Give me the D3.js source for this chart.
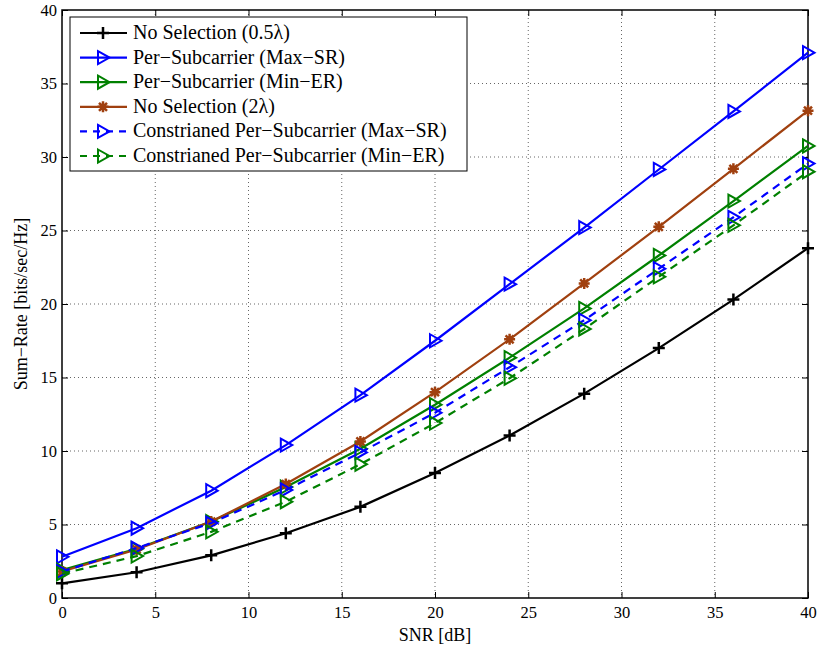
<!DOCTYPE html>
<html><head><meta charset="utf-8">
<script src="https://cdn.jsdelivr.net/npm/d3@7"></script>
<style>body{margin:0;background:#fff}svg{display:block}text{font-family:"Liberation Serif","Times New Roman",serif !important}</style>
</head><body>
<svg id="c" width="821" height="649"></svg>
<script>
const snr = [0,4,8,12,16,20,24,28,32,36,40];
const noSel05 = [1.0,1.75,2.9,4.4,6.2,8.5,11.05,13.9,17.0,20.3,23.8];
const perSubMaxSR = [2.8,4.75,7.3,10.4,13.8,17.5,21.35,25.2,29.15,33.1,37.1];
const perSubMinER = [1.9,3.35,5.2,7.55,10.15,13.15,16.35,19.7,23.3,27.0,30.75];
const noSel2 = [1.8,3.3,5.2,7.75,10.65,14.0,17.6,21.4,25.25,29.2,33.15];
const conMaxSR = [1.8,3.4,5.1,7.35,9.9,12.6,15.7,18.9,22.4,25.9,29.55];
const conMinER = [1.65,2.85,4.5,6.55,9.1,11.9,14.95,18.3,21.85,25.35,29.0];
const xTicks = [0,5,10,15,20,25,30,35,40];
const yTicks = [0,5,10,15,20,25,30,35,40];
const seriesNames = ["No Selection  (0.5\u03bb)","Per\u2212Subcarrier (Max\u2212SR)","Per\u2212Subcarrier (Min\u2212ER)","No Selection  (2\u03bb)","Constrianed Per\u2212Subcarrier (Max\u2212SR)","Constrianed Per\u2212Subcarrier (Min\u2212ER)"];
const series = [
  {name:seriesNames[0], v:noSel05, color:"#000000", dash:null, marker:"plus"},
  {name:seriesNames[1], v:perSubMaxSR, color:"#0000ff", dash:null, marker:"tri"},
  {name:seriesNames[2], v:perSubMinER, color:"#008000", dash:null, marker:"tri"},
  {name:seriesNames[3], v:noSel2, color:"#a0400f", dash:null, marker:"star"},
  {name:seriesNames[4], v:conMaxSR, color:"#0000ff", dash:"8,6", marker:"tri"},
  {name:seriesNames[5], v:conMinER, color:"#008000", dash:"8,6", marker:"tri"}
];
const FF = '"Liberation Serif","Times New Roman",serif';
const svg = d3.select("#c");
const L=62,R=808,T=10,B=598;
const x = d3.scaleLinear().domain([0,40]).range([L,R]);
const y = d3.scaleLinear().domain([0,40]).range([B,T]);
// grid
const g = svg.append("g");
xTicks.slice(1,-1).forEach(t=>g.append("line").attr("x1",x(t)).attr("x2",x(t)).attr("y1",T).attr("y2",B).attr("stroke","#666").attr("stroke-width",1).attr("stroke-dasharray","1,3"));
yTicks.slice(1,-1).forEach(t=>g.append("line").attr("y1",y(t)).attr("y2",y(t)).attr("x1",L).attr("x2",R).attr("stroke","#666").attr("stroke-width",1).attr("stroke-dasharray","1,3"));
// axes
const xa = svg.append("g").attr("transform",`translate(0,${B})`).call(d3.axisBottom(x).tickValues(xTicks).tickSize(-6).tickPadding(8));
const xt = svg.append("g").attr("transform",`translate(0,${T})`).call(d3.axisTop(x).tickValues(xTicks).tickSize(-6).tickFormat(""));
const ya = svg.append("g").attr("transform",`translate(${L},0)`).call(d3.axisLeft(y).tickValues(yTicks).tickSize(-6).tickPadding(5));
const yr = svg.append("g").attr("transform",`translate(${R},0)`).call(d3.axisRight(y).tickValues(yTicks).tickSize(-6).tickFormat(""));
[xa,xt,ya,yr].forEach(a=>{a.attr("font-family",FF).attr("font-size",16);a.select(".domain").remove();a.selectAll("line").attr("stroke","#000");a.selectAll("text").style("font-family",FF).style("font-size","16.5px").attr("fill","#000");});
svg.append("rect").attr("x",L).attr("y",T).attr("width",R-L).attr("height",B-T).attr("fill","none").attr("stroke","#000").attr("stroke-width",1.5);
// labels
svg.append("text").attr("x",(L+R)/2).attr("y",641).attr("text-anchor","middle").style("font-family",FF).style("font-size","18px").text("SNR [dB]");
svg.append("text").attr("transform",`translate(27,${(T+B)/2}) rotate(-90)`).attr("text-anchor","middle").style("font-family",FF).style("font-size","18px").text("Sum\u2212Rate [bits/sec/Hz]");
function drawMarker(sel, type, color){
  if(type==="plus"){
    sel.append("path").attr("d","M-6,0H6M0,-6V6").attr("stroke",color).attr("stroke-width",2.5).attr("fill","none");
  } else if(type==="tri"){
    sel.append("path").attr("d","M-5,-6.5L6.5,0L-5,6.5Z").attr("stroke",color).attr("stroke-width",2).attr("fill","none");
  } else {
    sel.append("path").attr("d","M-5.5,0H5.5M0,-5.5V5.5M-4,-4L4,4M-4,4L4,-4").attr("stroke",color).attr("stroke-width",2.5).attr("fill","none");
    sel.append("circle").attr("r",3).attr("fill",color);
  }
}
const line = d3.line().x((d,i)=>x(snr[i])).y(d=>y(d));
series.forEach(s=>{
  svg.append("path").datum(s.v).attr("d",line).attr("fill","none").attr("stroke",s.color).attr("stroke-width",2.2).attr("stroke-dasharray",s.dash);
  s.v.forEach((v,i)=>{ const m=svg.append("g").attr("transform",`translate(${x(snr[i])},${y(v)})`); drawMarker(m,s.marker,s.color); });
});
// legend
const lg = svg.append("g");
lg.append("rect").attr("x",70).attr("y",17).attr("width",397).attr("height",154).attr("fill","#fff").attr("stroke","#000").attr("stroke-width",1);
series.forEach((s,i)=>{
  const yy = 33+i*24.6;
  lg.append("line").attr("x1",80).attr("x2",127).attr("y1",yy).attr("y2",yy).attr("stroke",s.color).attr("stroke-width",2.2).attr("stroke-dasharray",s.dash?"7,6":null);
  drawMarker(lg.append("g").attr("transform",`translate(103,${yy})`), s.marker, s.color);
  lg.append("text").attr("x",133).attr("y",yy+6).style("font-family",FF).style("font-size","20px").text(s.name);
});
</script>
</body></html>
